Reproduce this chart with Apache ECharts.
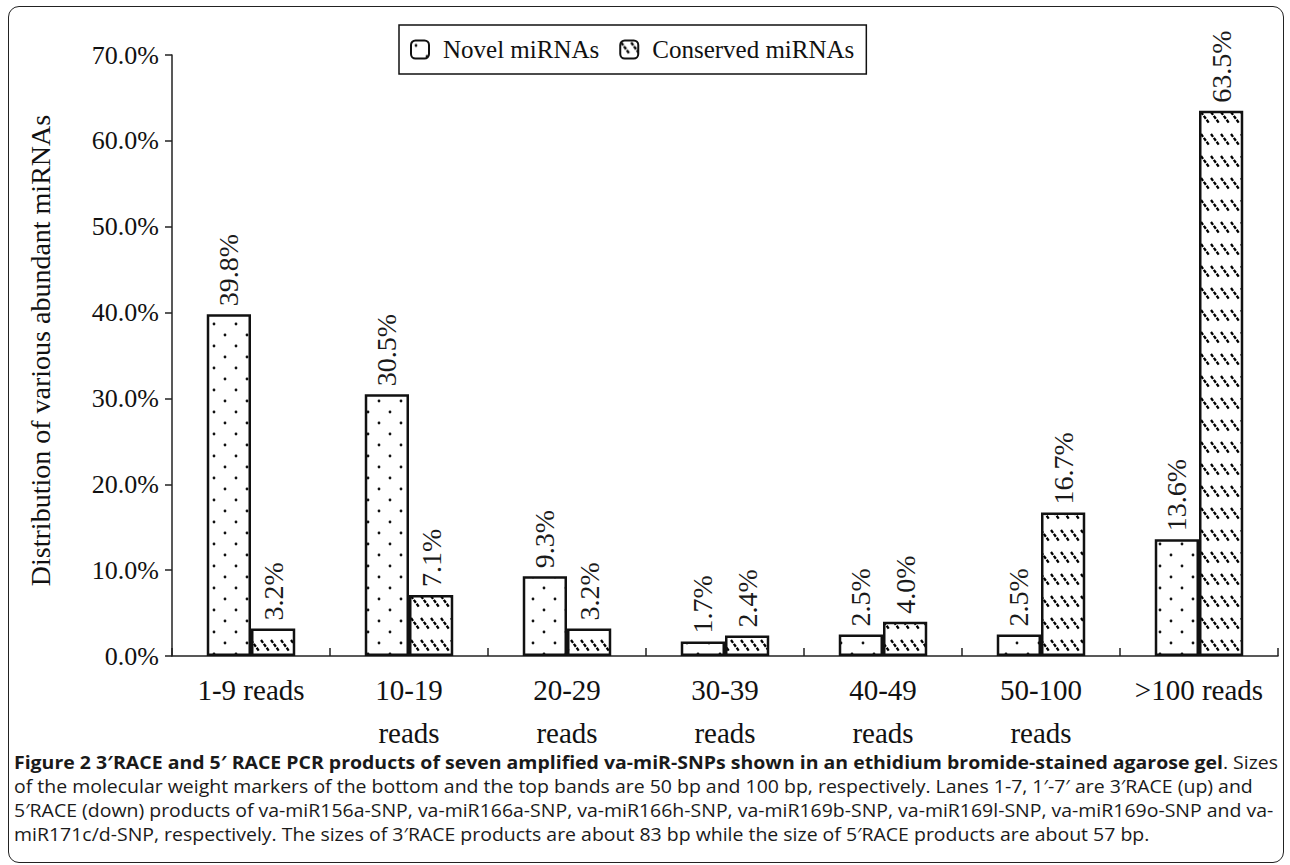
<!DOCTYPE html>
<html>
<head>
<meta charset="utf-8">
<script src="https://cdn.jsdelivr.net/npm/echarts@6/dist/echarts.min.js"></script>
<style>
html,body{margin:0;padding:0;background:#fff;}
#frame{position:absolute;left:8px;top:6px;width:1276px;height:857px;border:1.5px solid #222;border-radius:11px;box-sizing:border-box;}
#chart{position:absolute;left:0;top:0;width:1290px;height:865px;}
#caption{position:absolute;left:14px;top:750px;font-family:"Open Sans",sans-serif;font-size:18px;line-height:24px;color:#1a1a1a;white-space:nowrap;transform-origin:0 0;}
#caption b{font-weight:700;}
</style>
</head>
<body>
<div id="frame"></div>
<div id="chart"></div>
<div id="caption"><span id="l1"><b>Figure 2 3′RACE and 5′ RACE PCR products of seven amplified va-miR-SNPs shown in an ethidium bromide-stained agarose gel</b>. Sizes</span><br>of the molecular weight markers of the bottom and the top bands are 50 bp and 100 bp, respectively. Lanes 1-7, 1′-7′ are 3′RACE (up) and<br>5′RACE (down) products of va-miR156a-SNP, va-miR166a-SNP, va-miR166h-SNP, va-miR169b-SNP, va-miR169l-SNP, va-miR169o-SNP and va-<br>miR171c/d-SNP, respectively. The sizes of 3′RACE products are about 83 bp while the size of 5′RACE products are about 57 bp.</div>
<script>
const categories = ['1-9 reads', '10-19\nreads', '20-29\nreads', '30-39\nreads', '40-49\nreads', '50-100\nreads', '>100 reads'];
const novel = [39.8, 30.5, 9.3, 1.7, 2.5, 2.5, 13.6];
const conserved = [3.2, 7.1, 3.2, 2.4, 4.0, 16.7, 63.5];
const yTicks = [0, 10, 20, 30, 40, 50, 60, 70];

// fit caption first line to the reference width
(function () {
  const cap = document.getElementById('caption');
  const w = document.getElementById('l1').getBoundingClientRect().width;
  const s = 1264 / w;
  cap.style.transform = 'scaleX(' + s.toFixed(4) + ')';
})();

function dotPattern() {
  const c = document.createElement('canvas');
  c.width = 22; c.height = 22;
  const g = c.getContext('2d');
  g.fillStyle = '#fff'; g.fillRect(0, 0, 22, 22);
  g.fillStyle = '#111';
  [[5, 5], [16, 16]].forEach(p => { g.beginPath(); g.arc(p[0], p[1], 1.4, 0, Math.PI * 2); g.fill(); });
  return c.toDataURL();
}
function hatchPattern() {
  const c = document.createElement('canvas');
  c.width = 10; c.height = 22;
  const g = c.getContext('2d');
  g.fillStyle = '#fff'; g.fillRect(0, 0, 10, 22);
  g.strokeStyle = '#000'; g.lineWidth = 2.3;
  g.setLineDash([3.5, 1.3]);
  g.beginPath(); g.moveTo(1, 2); g.lineTo(9, 13); g.stroke();
  return c.toDataURL();
}
const chart = echarts.init(document.getElementById('chart'), null, {renderer: 'svg'});
const serif = '"Liberation Serif", "Times New Roman", serif';
const dotImg = new Image(); dotImg.src = dotPattern();
const hatchImg = new Image(); hatchImg.src = hatchPattern();

const labelCfg = {
  show: true, position: 'top', rotate: 90, align: 'left', verticalAlign: 'middle', distance: 8,
  fontFamily: serif, fontSize: 28, color: '#1a1a1a',
  formatter: p => p.value.toFixed(1) + '%'
};
chart.setOption({
  animation: false,
  backgroundColor: 'transparent',
  textStyle: {fontFamily: serif},
  legend: {
    left: 399, top: 25, itemWidth: 18, itemHeight: 18, itemGap: 20,
    padding: [12, 12, 12, 11],
    borderColor: '#111', borderWidth: 1.5,
    textStyle: {fontFamily: serif, fontSize: 25, color: '#111', padding: [0, 0, 0, 9]},
    data: ['Novel miRNAs', 'Conserved miRNAs']
  },
  grid: {left: 172, right: 12, top: 55, bottom: 209, containLabel: false},
  xAxis: {
    type: 'category', data: categories,
    axisLine: {lineStyle: {color: '#222', width: 1.5}},
    axisTick: {show: true, inside: true, length: 8, lineStyle: {color: '#222', width: 1.5}},
    axisLabel: {fontFamily: serif, fontSize: 29, color: '#111', lineHeight: 43, margin: 12, interval: 0}
  },
  yAxis: {
    type: 'value', min: 0, max: 70, interval: 10,
    name: 'Distribution of various abundant miRNAs', nameLocation: 'middle', nameGap: 118,
    nameTextStyle: {fontFamily: serif, fontSize: 28, color: '#111', padding: [0, 0, 0, 10]},
    axisLine: {show: true, lineStyle: {color: '#222', width: 1.5}},
    axisTick: {show: true, length: 7, lineStyle: {color: '#222', width: 1.5}},
    splitLine: {show: false},
    axisLabel: {fontFamily: serif, fontSize: 26, color: '#111', margin: 13,
      formatter: v => yTicks.includes(v) ? v.toFixed(1) + '%' : ''}
  },
  series: [
    {name: 'Novel miRNAs', type: 'bar', data: novel, barGap: '0%', barCategoryGap: '44%',
      itemStyle: {color: {image: dotImg, repeat: 'repeat'}, borderColor: '#111', borderWidth: 2.5},
      label: labelCfg},
    {name: 'Conserved miRNAs', type: 'bar', data: conserved,
      itemStyle: {color: {image: hatchImg, repeat: 'repeat'}, borderColor: '#111', borderWidth: 2.5},
      label: labelCfg}
  ]
});
</script>
</body>
</html>
